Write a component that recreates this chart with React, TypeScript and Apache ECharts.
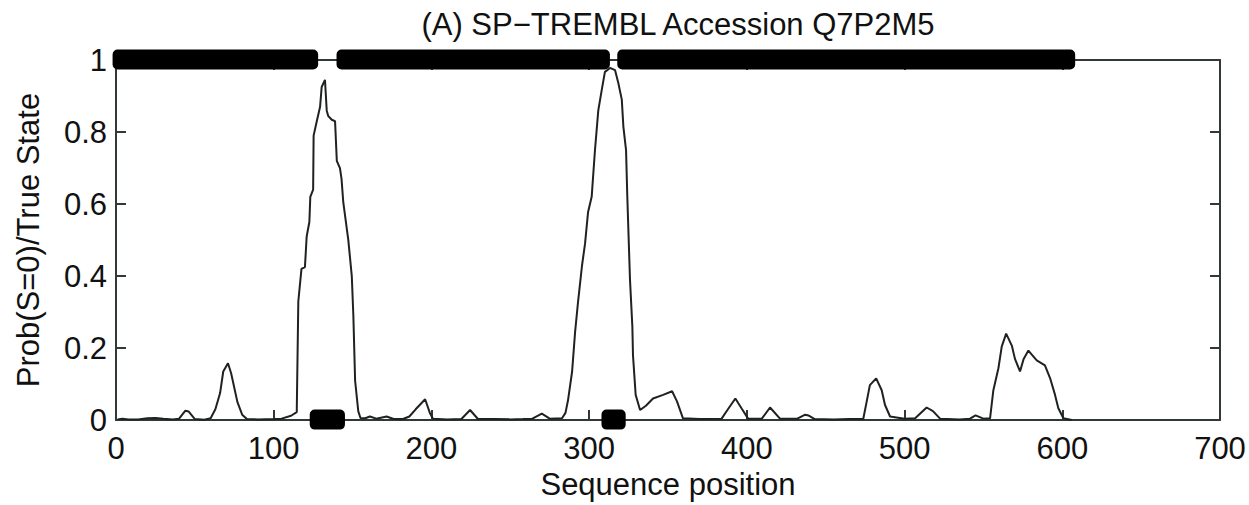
import React, { useEffect, useRef } from "react";
import * as echarts from "echarts";

const titleText = "(A) SP\u2212TREMBL Accession Q7P2M5";
const xAxisName = "Sequence position";
const yAxisName = "Prob(S=0)/True State";
const xTicks = [0, 100, 200, 300, 400, 500, 600, 700];
const yTicks = [0, 0.2, 0.4, 0.6, 0.8, 1];

// Prob(S=0) curve: [sequence position, probability]
const probCurve: [number, number][] = [
  [1, 0.002], [4, 0.004], [8, 0.002], [14, 0.002], [20, 0.005], [25, 0.006], [30, 0.004],
  [36, 0.002], [40, 0.004], [44, 0.026], [46, 0.024], [50, 0.003], [56, 0.001], [60, 0.005],
  [63, 0.03], [66, 0.075], [68, 0.135], [71, 0.158], [73, 0.13], [75, 0.09], [77, 0.05],
  [80, 0.015], [83, 0.003], [90, 0.002], [100, 0.003], [105, 0.004], [111, 0.012],
  [114.6, 0.022], [115.6, 0.33], [117.6, 0.42], [119.8, 0.425], [120.9, 0.51], [122.6, 0.55],
  [123.2, 0.62], [125, 0.64], [125.3, 0.79], [127.3, 0.83], [129.4, 0.87], [130.4, 0.925],
  [132.5, 0.945], [133.6, 0.86], [134.5, 0.845], [136.8, 0.834], [138.9, 0.83], [140, 0.72],
  [142, 0.7], [143, 0.67], [144.1, 0.605], [147.3, 0.5], [149.5, 0.4], [150.5, 0.29],
  [151.6, 0.11], [153.6, 0.025], [155, 0.006], [158, 0.005], [161, 0.01], [165, 0.004],
  [171.6, 0.01], [176, 0.003], [182, 0.003], [186, 0.01], [190, 0.03], [196, 0.058],
  [199, 0.02], [201, 0.004], [210, 0.002], [219, 0.003], [224.5, 0.028], [229.5, 0.003],
  [240, 0.003], [250, 0.002], [258, 0.003], [264, 0.004], [270, 0.018], [275, 0.004],
  [282.8, 0.005], [285, 0.02], [286.6, 0.055], [289.2, 0.135], [291.1, 0.245], [293, 0.33],
  [295.5, 0.43], [297.4, 0.49], [299.3, 0.577], [301.6, 0.62], [303.7, 0.75], [305.8, 0.86],
  [308, 0.917], [310, 0.967], [313.3, 0.978], [316.4, 0.972], [318.5, 0.936], [320.7, 0.89],
  [321.7, 0.815], [323.4, 0.75], [324.2, 0.62], [325.9, 0.39], [327.4, 0.26], [327.8, 0.18],
  [329.5, 0.07], [332.3, 0.028], [336, 0.04], [340.5, 0.06], [346.9, 0.07], [352.6, 0.08],
  [355.7, 0.052], [359.5, 0.005], [370, 0.003], [384, 0.004], [388, 0.03], [392.7, 0.06],
  [397, 0.03], [400.8, 0.004], [409.5, 0.004], [414.7, 0.035], [421, 0.004], [432, 0.004],
  [437, 0.015], [439, 0.013], [443, 0.003], [455, 0.002], [465, 0.003], [473.8, 0.003],
  [476, 0.052], [478, 0.097], [482, 0.116], [485.5, 0.083], [487.6, 0.042], [490.8, 0.01],
  [500, 0.004], [506.7, 0.005], [514, 0.035], [518, 0.025], [522.5, 0.004], [535, 0.002],
  [541.5, 0.004], [545, 0.013], [550, 0.004], [554.2, 0.005], [556.3, 0.083], [559.5, 0.144],
  [561.6, 0.204], [564.4, 0.24], [568, 0.207], [570, 0.17], [573.2, 0.135], [575.5, 0.17],
  [578.5, 0.193], [583.8, 0.166], [589, 0.152], [592.3, 0.116], [595.4, 0.07], [597.5, 0.033],
  [600.7, 0.005], [606, 0.0],
];

// True state runs: [first position, last position, state]
const trueStateRuns: [number, number, number][] = [
  [1, 125, 1],
  [126, 142, 0],
  [143, 310, 1],
  [311, 320, 0],
  [321, 605, 1],
];

const FONT = "'Liberation Sans', Arial, Helvetica, sans-serif";
const AXIS_COLOR = "#323838";

export default function App() {
  const ref = useRef<HTMLDivElement>(null);

  useEffect(() => {
    if (!ref.current) return;
    const chart = echarts.init(ref.current, null, { renderer: "svg" });
    const tickStyle = { show: true, inside: true, length: 10, lineStyle: { color: AXIS_COLOR, width: 2 } };
    const lineStyle = { show: true, onZero: false, lineStyle: { color: AXIS_COLOR, width: 2 } };
    chart.setOption({
      animation: false,
      backgroundColor: "#ffffff",
      title: {
        text: titleText,
        left: 673,
        top: 4,
        textAlign: "center",
        textStyle: { fontFamily: FONT, fontSize: 31, fontWeight: "normal", color: "#111" },
      },
      grid: { left: 116, right: 29, top: 60, bottom: 83, containLabel: false },
      xAxis: [
        {
          type: "value",
          min: xTicks[0],
          max: xTicks[xTicks.length - 1],
          interval: 100,
          position: "bottom",
          name: xAxisName,
          nameLocation: "middle",
          nameGap: 46,
          nameTextStyle: { fontFamily: FONT, fontSize: 31, color: "#111" },
          axisLine: lineStyle,
          axisTick: tickStyle,
          axisLabel: { fontFamily: FONT, fontSize: 31, color: "#111", margin: 13 },
          splitLine: { show: false },
        },
        {
          type: "value",
          min: xTicks[0],
          max: xTicks[xTicks.length - 1],
          interval: 100,
          position: "top",
          axisLine: lineStyle,
          axisTick: tickStyle,
          axisLabel: { show: false },
          splitLine: { show: false },
        },
      ],
      yAxis: [
        {
          type: "value",
          min: yTicks[0],
          max: yTicks[yTicks.length - 1],
          interval: 0.2,
          position: "left",
          name: yAxisName,
          nameLocation: "middle",
          nameGap: 72,
          nameTextStyle: { fontFamily: FONT, fontSize: 31, color: "#111" },
          axisLine: lineStyle,
          axisTick: tickStyle,
          axisLabel: { fontFamily: FONT, fontSize: 31, color: "#111", margin: 9 },
          splitLine: { show: false },
        },
        {
          type: "value",
          min: yTicks[0],
          max: yTicks[yTicks.length - 1],
          interval: 0.2,
          position: "right",
          axisLine: lineStyle,
          axisTick: tickStyle,
          axisLabel: { show: false },
          splitLine: { show: false },
        },
      ],
      series: [
        {
          type: "line",
          xAxisIndex: 0,
          yAxisIndex: 0,
          data: probCurve,
          symbol: "none",
          lineStyle: { color: "#1e2222", width: 2 },
          z: 3,
        },
        {
          type: "custom",
          xAxisIndex: 0,
          yAxisIndex: 0,
          clip: false,
          encode: { x: [0, 1], y: 2 },
          data: trueStateRuns,
          renderItem: (_params: any, api: any) => {
            const s = api.coord([api.value(0), api.value(2)]);
            const e = api.coord([api.value(1), api.value(2)]);
            return {
              type: "rect",
              shape: { x: s[0] - 5, y: s[1] - 10.5, width: e[0] - s[0] + 10, height: 20, r: 5 },
              style: { fill: "#000000" },
            };
          },
          z: 5,
        },
      ],
    });
    return () => chart.dispose();
  }, []);

  return (
    <div
      ref={ref}
      style={{ position: "fixed", left: 0, top: 0, width: 1249, height: 505, background: "#fff" }}
    />
  );
}
